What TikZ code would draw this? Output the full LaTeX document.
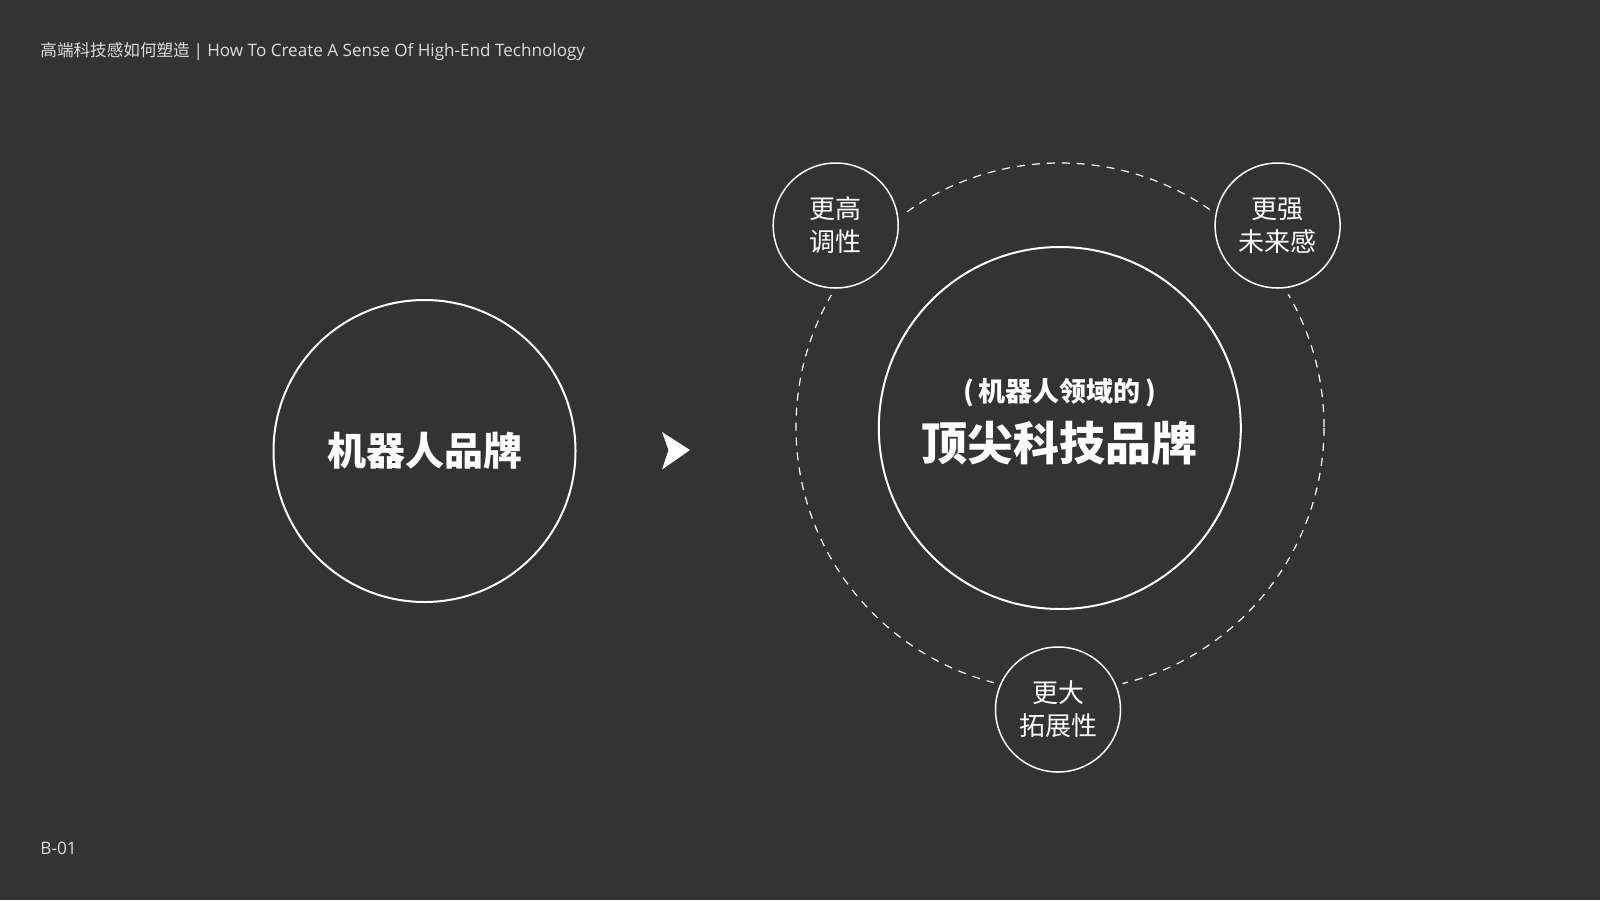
\documentclass[tikz,border=0pt]{standalone}
\usepackage{fontspec}
\setmainfont{Noto Sans CJK SC}
\newfontfamily\latinfont{Open Sans}
\usepackage{xcolor}
\definecolor{bg}{HTML}{333333}
\definecolor{capt}{HTML}{DDDDDD}

\begin{document}
\begin{tikzpicture}[x=0.5pt,y=-0.5pt,
		ring/.style={circle,draw=white,inner sep=0pt,text=white,align=center},
		bigring/.style={ring,line width=1pt},
		smallring/.style={ring,line width=0.75pt,minimum size=62.5pt,fill=bg,
			preaction={draw=bg,line width=7pt},font=\fontsize{13}{16.5}\selectfont},
		orbit/.style={circle,draw=white,inner sep=0pt,line width=0.6pt,dash pattern=on 4pt off 3.5pt},
		caption/.style={anchor=west,text=capt,inner sep=0pt}]
			\useasboundingbox[fill=bg] (0,0) rectangle (1600,900);

			% header and footer
			\node[caption,font=\fontsize{8.3}{10}\selectfont] (title) at (40,52) {高端科技感如何塑造 {\latinfont\fontsize{8.55}{10}\selectfont| How To Create A Sense Of High-End Technology}};
			\node[caption,font=\fontsize{8.6}{10}\selectfont\latinfont] (page) at (40,848) {B-01};

			% left side
			\node[bigring,minimum size=151pt,font=\fontsize{19.5}{22}\selectfont\bfseries] (robot) at (424.5,451) {机器人品牌};
			\fill[white] (662,432) -- (690,450) -- (662,469.5) -- (668.5,450) -- cycle;

			% right side
			\node[orbit,minimum size=264pt] (orbit) at (1060,427) {};
			\node[bigring,minimum size=181pt] (top) at (1059.8,428) {};
			\node[text=white,font=\fontsize{13.5}{16}\selectfont\bfseries] (field) at (1059.8,393) {(\,机器人领域的\,)};
			\node[text=white,font=\fontsize{23}{26}\selectfont\bfseries] (brand) at (1059.8,443) {顶尖科技品牌};

			\node[smallring] (tone) at (835.7,225.5) {更高\\调性};
			\node[smallring] (future) at (1277.6,225.5) {更强\\未来感};
			\node[smallring] (scale) at (1058,709.5) {更大\\拓展性};
		\end{tikzpicture}
\end{document}
